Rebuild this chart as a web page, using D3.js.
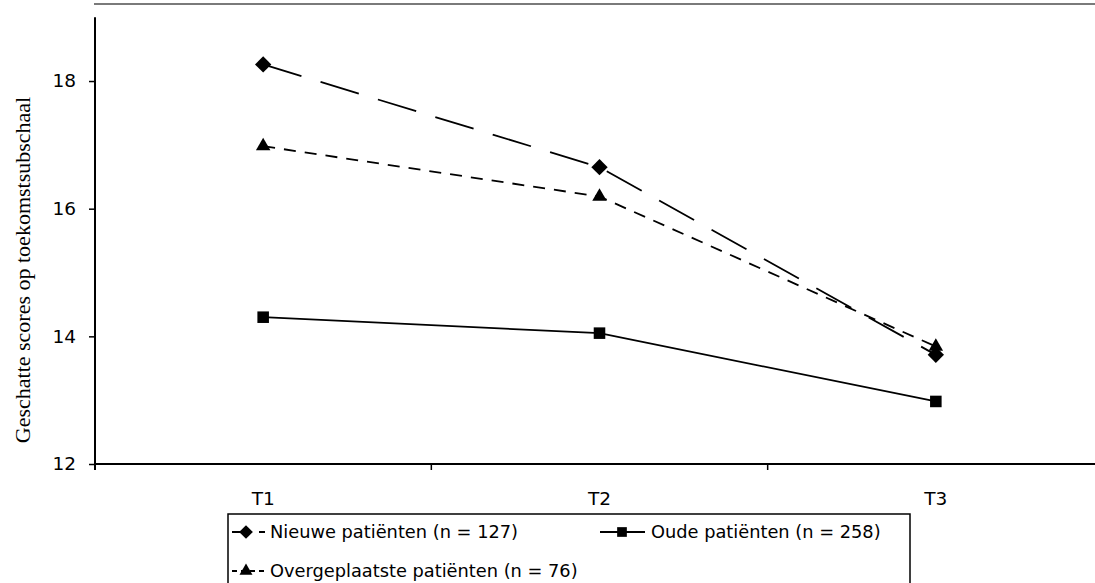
<!DOCTYPE html>
<html>
<head>
<meta charset="utf-8">
<script src="https://cdn.jsdelivr.net/npm/d3@7"></script>
<style>
  body { margin: 0; background: #fff; }
  svg { display: block; }
</style>
</head>
<body>
<div id="chart"></div>
<script>
const svgWidth = 1095;
const svgHeight = 583;

// data
const categories = ["T1", "T2", "T3"];
const yTicks = [12, 14, 16, 18];
const nieuwe = [18.26, 16.65, 13.71];
const oude = [14.30, 14.05, 12.98];
const overgeplaatst = [16.98, 16.19, 13.84];
const seriesNames = ["Nieuwe patiënten (n = 127)", "Oude patiënten (n = 258)", "Overgeplaatste patiënten (n = 76)"];

const series = [
    {name: seriesNames[0], values: nieuwe, dash: "40,20", legendDash: "16,11,7,20", symbol: d3.symbolDiamond2},
    {name: seriesNames[1], values: oude, dash: null, legendDash: null, symbol: d3.symbolSquare2},
    {name: seriesNames[2], values: overgeplaatst, dash: "12,9", legendDash: "5,4", symbol: d3.symbolTriangle2}
];

const plotLeft = 95, plotBottom = 464;

const x = d3.scaleBand()
    .domain(categories)
    .range([plotLeft, 1104]);

const y = d3.scaleLinear()
    .domain([12, 19])
    .range([plotBottom, 17.2]);

const cx = c => x(c) + x.bandwidth() / 2;

const svg = d3.select("#chart")
    .append("svg")
    .attr("width", svgWidth)
    .attr("height", svgHeight);

// grey top border of the plot area
svg.append("line")
    .attr("x1", plotLeft - 1).attr("x2", svgWidth)
    .attr("y1", 4).attr("y2", 4)
    .attr("stroke", "#7a7a7a")
    .attr("stroke-width", 2);

// Y axis
const yAxis = svg.append("g")
    .attr("transform", `translate(${plotLeft},0)`)
    .call(d3.axisLeft(y).tickValues(yTicks).tickFormat(d3.format("d"))
        .tickSize(6).tickSizeOuter(0).tickPadding(13));
yAxis.select(".domain").remove();
yAxis.selectAll("line").attr("stroke", "#000").attr("stroke-width", 1.5);
yAxis.selectAll("text")
    .attr("font-family", "DejaVu Sans")
    .attr("font-size", "18.5px")
    .attr("fill", "#000");

svg.append("line")
    .attr("x1", plotLeft).attr("x2", plotLeft)
    .attr("y1", y(19)).attr("y2", plotBottom + 6)
    .attr("stroke", "#000").attr("stroke-width", 2);

// X axis
svg.append("line")
    .attr("x1", plotLeft).attr("x2", svgWidth)
    .attr("y1", plotBottom).attr("y2", plotBottom)
    .attr("stroke", "#000").attr("stroke-width", 2);

svg.selectAll(".xtick")
    .data(categories)
    .join("line")
    .attr("class", "xtick")
    .attr("x1", d => x(d) + x.bandwidth()).attr("x2", d => x(d) + x.bandwidth())
    .attr("y1", plotBottom).attr("y2", plotBottom + 6)
    .attr("stroke", "#000").attr("stroke-width", 1.5);

svg.selectAll(".xlabel")
    .data(categories)
    .join("text")
    .attr("class", "xlabel")
    .attr("x", d => cx(d))
    .attr("y", 505)
    .attr("text-anchor", "middle")
    .attr("font-family", "DejaVu Sans")
    .attr("font-size", "18.5px")
    .text(d => d);

// Y title
svg.append("text")
    .attr("transform", `translate(30,270) rotate(-90)`)
    .attr("text-anchor", "middle")
    .attr("font-family", "Liberation Serif")
    .attr("font-size", "22px")
    .text("Geschatte scores op toekomstsubschaal");

// lines
const line = d3.line()
    .x((d, i) => cx(categories[i]))
    .y(d => y(d));

series.forEach(s => {
    svg.append("path")
        .datum(s.values)
        .attr("d", line)
        .attr("fill", "none")
        .attr("stroke", "#000")
        .attr("stroke-width", 1.8)
        .attr("stroke-dasharray", s.dash);
});

series.forEach(s => {
    svg.selectAll(null)
        .data(s.values)
        .join("path")
        .attr("transform", (d, i) => `translate(${cx(categories[i])},${y(d)})`)
        .attr("d", d3.symbol().type(s.symbol).size(s.symbol === d3.symbolTriangle2 ? 150 : 170))
        .attr("fill", "#000");
});

// legend
const legend = svg.append("g");
legend.append("rect")
    .attr("x", 228).attr("y", 514)
    .attr("width", 682).attr("height", 90)
    .attr("fill", "none")
    .attr("stroke", "#000")
    .attr("stroke-width", 1.5);

const legendPos = [[246, 532], [622, 532], [246, 571]];
series.forEach((s, i) => {
    const [lx, ly] = legendPos[i];
    const g = legend.append("g").attr("transform", `translate(${lx},${ly})`);
    g.append("line")
        .attr("x1", i === 1 ? -22 : -14).attr("x2", i === 1 ? 23 : 19)
        .attr("stroke", "#000")
        .attr("stroke-width", 1.8)
        .attr("stroke-dasharray", s.legendDash);
    g.append("path")
        .attr("d", d3.symbol().type(s.symbol).size(120))
        .attr("fill", "#000");
    g.append("text")
        .attr("x", i === 1 ? 29 : 24)
        .attr("dy", "0.36em")
        .attr("font-family", "DejaVu Sans")
        .attr("font-size", "17.8px")
        .text(s.name);
});
</script>
</body>
</html>
